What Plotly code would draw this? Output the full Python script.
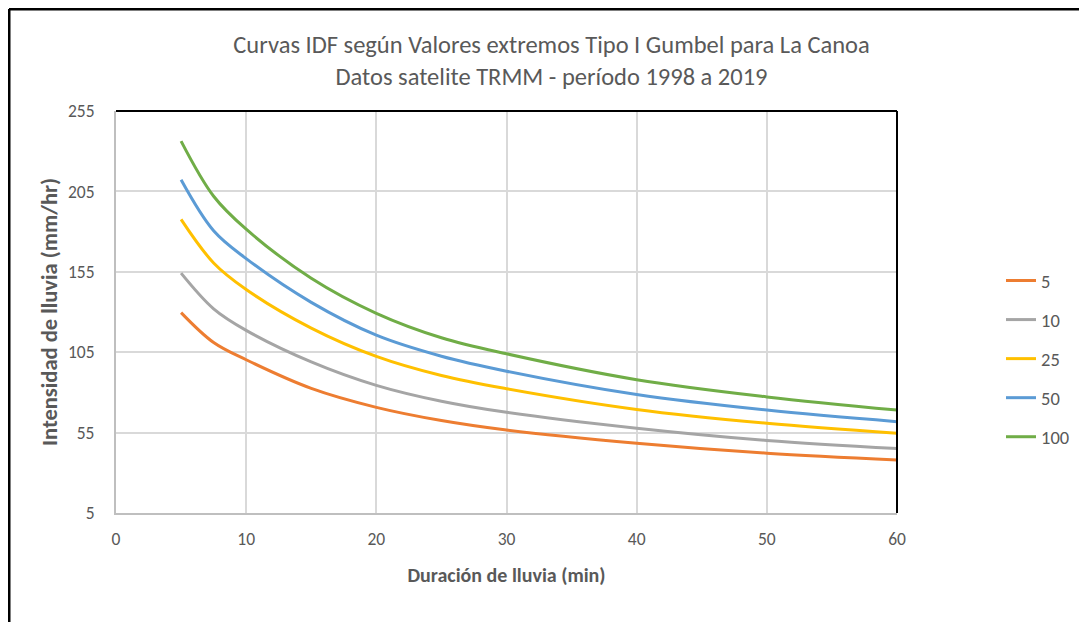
import plotly.graph_objects as go

durations = [5, 7.5, 10, 15, 20, 25, 30, 40, 50, 60]
series_names = ["5", "10", "25", "50", "100"]
i_T5 = [129.6, 111.0, 100.3, 82.5, 70.7, 62.5, 56.6, 48.4, 42.2, 38.0]
i_T10 = [154.2, 132.0, 118.6, 99.0, 84.4, 74.5, 67.6, 57.7, 50.1, 45.1]
i_T25 = [187.6, 160.5, 144.0, 120.0, 102.4, 90.5, 82.3, 69.4, 60.8, 54.6]
i_T50 = [212.2, 180.5, 163.2, 136.0, 115.6, 102.5, 93.2, 78.7, 69.0, 61.8]
i_T100 = [236.3, 202.0, 181.5, 151.0, 129.2, 114.0, 104.0, 87.9, 77.2, 69.0]
colors = ["#ED7D31", "#A5A5A5", "#FFC000", "#5B9BD5", "#70AD47"]

x_ticks = [0, 10, 20, 30, 40, 50, 60]
y_ticks = [5, 55, 105, 155, 205, 255]

fig = go.Figure()
for i, (name, vals) in enumerate(zip(series_names, [i_T5, i_T10, i_T25, i_T50, i_T100])):
    fig.add_trace(go.Scatter(
        x=durations, y=vals, mode="lines", name=name,
        line=dict(color=colors[i], width=3, shape="spline", smoothing=1.0),
        legendgroup=name,
    ))

font_main = "Carlito, Lato, Liberation Sans, Arial, sans-serif"
txt = "#595959"

# page body adds an 8px offset; margins compensate so the plot area sits at 116..897 x 111..513
L, R, T, B = 108, 198, 103, 117
PW, PH = 1087 - L - R, 622 - T - B

fig.update_layout(
    width=1087, height=622,
    margin=dict(l=L, r=R, t=T, b=B),
    paper_bgcolor="white", plot_bgcolor="white",
    font=dict(family=font_main, color=txt, size=17),
    title=dict(
        text="Curvas IDF según Valores extremos Tipo I Gumbel para La Canoa<br>Datos satelite TRMM - período 1998 a 2019",
        x=0.5, xanchor="center", xref="container", y=(622 - 45) / 622, yanchor="middle", yref="container",
        font=dict(size=24.5, color=txt, family=font_main),
    ),
    xaxis=dict(
        range=[0, 60], tickvals=x_ticks, showgrid=True, gridcolor="#d9d9d9", gridwidth=1.5,
        showline=True, linecolor="#bfbfbf", linewidth=2, zeroline=False,
        ticks="", ticklabelstandoff=9, tickfont=dict(size=17.5, color=txt),
        title=dict(text="<b>Duración de lluvia (min)</b>", standoff=19, font=dict(size=20, color=txt)),
    ),
    yaxis=dict(
        range=[5, 255], tickvals=y_ticks, showgrid=True, gridcolor="#d9d9d9", gridwidth=1.5,
        showline=True, linecolor="#bfbfbf", linewidth=2, zeroline=False,
        ticks="", ticklabelstandoff=16, tickfont=dict(size=17.5, color=txt),
        title=dict(text="<b>Intensidad de lluvia (mm/hr)</b>", standoff=4, font=dict(size=22.5, color=txt)),
    ),
    legend=dict(
        x=(1001 - 116) / PW, xanchor="left", y=(513 - 359) / PH, yanchor="middle",
        traceorder="grouped", tracegroupgap=12, font=dict(size=18.5, color=txt),
        bgcolor="rgba(0,0,0,0)",
    ),
    showlegend=True,
)

# plot-area top and right border lines (black)
fig.add_shape(type="line", xref="paper", yref="paper", x0=0, x1=1, y0=1, y1=1,
              line=dict(color="black", width=2), layer="above")
fig.add_shape(type="line", xref="paper", yref="paper", x0=1, x1=1, y0=0, y1=1,
              line=dict(color="black", width=2), layer="above")
# outer chart frame: top and left edges
fx0 = -(L - 1) / PW
fy1 = 1 + (T - 1) / PH
fig.add_shape(type="line", xref="paper", yref="paper", x0=fx0, x1=(1087 - L) / PW, y0=fy1, y1=fy1,
              line=dict(color="black", width=3), layer="above")
fig.add_shape(type="line", xref="paper", yref="paper", x0=fx0, x1=fx0, y0=-B / PH, y1=fy1,
              line=dict(color="black", width=3), layer="above")

fig.write_html("out.html")
